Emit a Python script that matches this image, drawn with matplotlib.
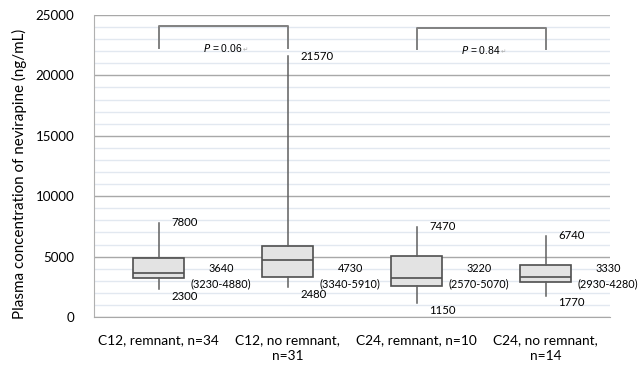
import matplotlib
matplotlib.use("Agg")
import matplotlib.pyplot as plt
from matplotlib.ticker import MultipleLocator

plt.rcParams['font.family'] = ['Lato', 'DejaVu Sans']

# dados
grupos = ["C12, remnant, n=34", "C12, no remnant,\nn=31",
          "C24, remnant, n=10", "C24, no remnant,\nn=14"]
minimos = [2300, 2480, 1150, 1770]
q1 = [3230, 3340, 2570, 2930]
medianas = [3640, 4730, 3220, 3330]
q3 = [4880, 5910, 5070, 4280]
maximos = [7800, 21570, 7470, 6740]

# comparações (índices dos grupos) e valores de p
pares = [(0, 1), (2, 3)]
p_valores = ["0.06", "0.84"]
topo_colchete = [24100, 23950]
queda_colchete = 1800

fig = plt.figure(figsize=(6.38, 3.66), dpi=100)
ax = fig.add_axes([94 / 638, 49 / 366, 516 / 638, 302 / 366])

stats = []
for i in range(len(grupos)):
    stats.append({"whislo": minimos[i], "q1": q1[i], "med": medianas[i],
                  "q3": q3[i], "whishi": maximos[i], "fliers": []})

ax.bxp(stats, positions=range(len(grupos)), widths=0.4, patch_artist=True,
       showcaps=False, showfliers=False,
       boxprops=dict(facecolor="#e3e3e3", edgecolor="#4f4f4f", linewidth=1.2),
       medianprops=dict(color="#4f4f4f", linewidth=1.2),
       whiskerprops=dict(color="#5f5f5f", linewidth=1.1), zorder=3)

ax.set_xlim(-0.5, len(grupos) - 0.5)
ax.set_ylim(0, 25000)
ax.yaxis.set_major_locator(MultipleLocator(5000))
ax.yaxis.set_minor_locator(MultipleLocator(1000))
ax.grid(axis="y", which="major", color="#a8a8a8", linewidth=1.0, zorder=0)
ax.grid(axis="y", which="minor", color="#e2e8f0", linewidth=1.0, zorder=0)
ax.set_axisbelow(True)

for lado in ["top", "right"]:
    ax.spines[lado].set_visible(False)
ax.spines["left"].set_color("#b0b0b0")
ax.spines["bottom"].set_color("#a8a8a8")
ax.tick_params(axis="both", which="both", length=0)
ax.tick_params(axis="y", pad=14, labelsize=9.6)
ax.tick_params(axis="x", pad=12, labelsize=9.9)
ax.set_xticks(range(len(grupos)))
ax.set_xticklabels(grupos, linespacing=1.45)
ax.set_ylabel("Plasma concentration of nevirapine (ng/mL)", fontsize=10.9)
ax.yaxis.set_label_coords(-0.13, 0.473)

# rótulos de cada caixa
for i in range(len(grupos)):
    ax.annotate(f"{maximos[i]}", (i, maximos[i]), xytext=(13, 0),
                textcoords="offset pixels", ha="left", va="center", fontsize=8.2)
    ax.annotate(f"{minimos[i]}", (i, minimos[i]), xytext=(13, -7),
                textcoords="offset pixels", ha="left", va="center", fontsize=8.2)
    ax.text(i + 0.485, 3400, f"{medianas[i]}\n({q1[i]}-{q3[i]})",
            ha="center", va="center", fontsize=7.8, linespacing=1.45)

# colchetes com valores de p
for (a, b), p, topo in zip(pares, p_valores, topo_colchete):
    ax.plot([a, a, b, b], [topo - queda_colchete, topo, topo, topo - queda_colchete],
            color="#808080", linewidth=1.4, zorder=4)
    ax.text((a + b) / 2, topo - queda_colchete - 50, r"$\it{P}$ = " + p,
            ha="center", va="center", fontsize=7.4, family="Liberation Sans")
    ax.annotate("\u21b5", ((a + b) / 2, topo - queda_colchete - 50), xytext=(20, -2),
                textcoords="offset pixels", ha="left", va="center", fontsize=4.5,
                color="#aaaaaa")

fig.savefig("out.png", dpi=100)
